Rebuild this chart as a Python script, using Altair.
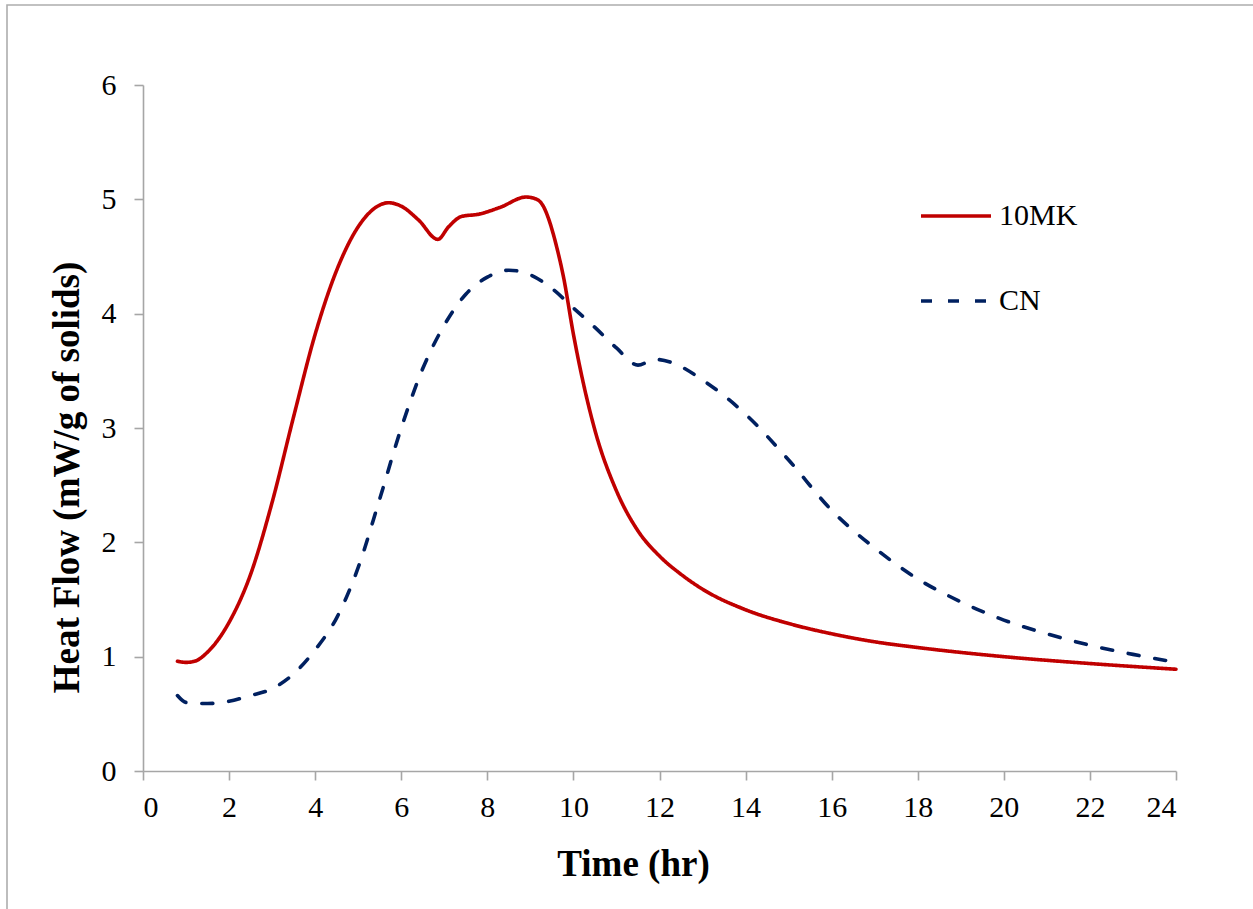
import altair as alt
import pandas as pd

# 10MK series
time_10mk = [0.8, 1.0, 1.2, 1.5, 2.0, 2.5, 3.0, 3.5, 4.0, 4.5, 5.0, 5.5, 5.7, 6.0, 6.4,
             6.85, 7.1, 7.4, 7.8, 8.3, 8.9, 9.15, 9.3, 9.45, 9.6, 9.77, 10.0, 10.5, 11.0, 11.5,
             12.0, 12.5, 13.0, 14.0, 15.0, 16.0, 17.0, 18.0, 20.0, 22.0, 24.0]
hf_10mk = [0.96, 0.95, 0.96, 1.04, 1.30, 1.72, 2.35, 3.10, 3.82, 4.38, 4.76, 4.95, 4.97, 4.94, 4.82,
           4.65, 4.76, 4.85, 4.87, 4.93, 5.02, 5.00, 4.94, 4.80, 4.60, 4.32, 3.82, 2.98, 2.45, 2.10,
           1.88, 1.72, 1.59, 1.41, 1.29, 1.20, 1.13, 1.08, 1.00, 0.94, 0.89]

# CN series
time_cn = [0.8, 1.0, 1.5, 2.0, 2.5, 3.0, 3.5, 4.0, 4.5, 5.0, 5.5, 6.0, 6.5, 7.0, 7.5, 8.0,
           8.5, 9.0, 9.5, 10.0, 10.5, 11.0, 11.5, 11.9, 12.3, 13.0, 14.0, 15.0, 16.0, 17.0,
           18.0, 19.0, 20.0, 21.0, 22.0, 23.0, 24.0]
hf_cn = [0.66, 0.60, 0.59, 0.61, 0.66, 0.72, 0.85, 1.06, 1.34, 1.78, 2.38, 3.00, 3.52, 3.90,
         4.17, 4.32, 4.38, 4.34, 4.22, 4.05, 3.88, 3.70, 3.55, 3.60, 3.57, 3.42, 3.12, 2.72,
         2.28, 1.95, 1.68, 1.48, 1.32, 1.20, 1.10, 1.02, 0.95]

series_names = ["10MK", "CN"]
series_colors = ["#C00000", "#002060"]
series_dashes = [[1, 0], [11, 16]]
x_ticks = list(range(0, 25, 2))
y_ticks = list(range(0, 7))

df = pd.concat([
    pd.DataFrame({"t": time_10mk, "hf": hf_10mk, "series": "10MK", "order": range(len(time_10mk))}),
    pd.DataFrame({"t": time_cn, "hf": hf_cn, "series": "CN", "order": range(len(time_cn))}),
])

FONT = "Liberation Serif"

legend_cfg = dict(title=None, orient="none", legendX=776, legendY=94,
                  symbolType="stroke", symbolSize=4900, symbolStrokeWidth=3.6,
                  rowPadding=33, labelOffset=6, padding=0)

lines = alt.Chart(df).mark_line(
    strokeWidth=3.6, interpolate="monotone", strokeCap="round"
).encode(
    x=alt.X("t:Q", scale=alt.Scale(domain=[0, 24], nice=False),
            axis=alt.Axis(values=x_ticks, title="Time (hr)", grid=False,
                          tickSize=9, labelPadding=12, titleX=490, titleY=104,
                          titleBaseline="alphabetic")),
    y=alt.Y("hf:Q", scale=alt.Scale(domain=[0, 6], nice=False),
            axis=alt.Axis(values=y_ticks, title="Heat Flow (mW/g of solids)", grid=False,
                          tickSize=9, labelPadding=18, titleX=-65, titleY=392,
                          titleBaseline="alphabetic")),
    color=alt.Color("series:N", scale=alt.Scale(domain=series_names, range=series_colors),
                    legend=alt.Legend(**legend_cfg)),
    strokeDash=alt.StrokeDash("series:N", scale=alt.Scale(domain=series_names, range=series_dashes),
                              legend=alt.Legend(**legend_cfg)),
    order="order:Q",
)

frame = alt.Chart(pd.DataFrame({"a": [0]})).mark_rect(
    fill=None, stroke="#ADADAD", strokeWidth=1.6
).encode(
    x=alt.value(-136), x2=alt.value(1300),
    y=alt.value(-80), y2=alt.value(1000),
)

chart = alt.layer(frame, lines).properties(
    width=1033, height=686,
    autosize=alt.AutoSizeParams(type="none"),
    padding={"left": 143, "top": 85, "right": 77, "bottom": 138},
    background="white",
).configure_view(
    stroke=None
).configure_axis(
    domainColor="#A6A6A6", domainWidth=1.6, tickColor="#A6A6A6", tickWidth=1.6,
    labelFont=FONT, labelFontSize=30, labelColor="#000000",
    titleFont=FONT, titleFontSize=37, titleFontWeight="bold", titleColor="#000000",
).configure_legend(
    labelFont=FONT, labelFontSize=30, labelColor="#000000",
)

chart.save("out.html", embed_options={"renderer": "svg", "actions": False})
